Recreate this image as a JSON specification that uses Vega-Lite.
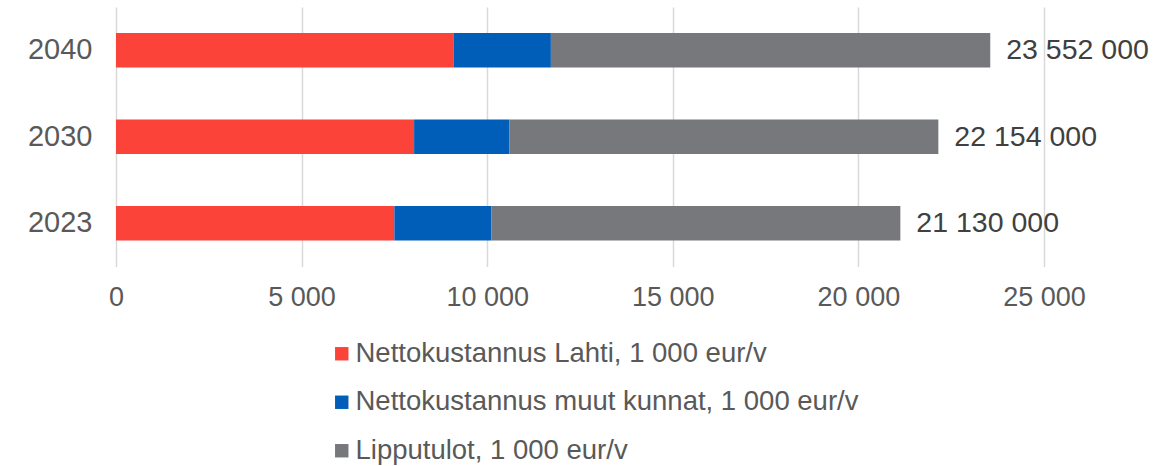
{
  "$schema": "https://vega.github.io/schema/vega-lite/v6.json",
  "autosize": {"type": "none"},
  "padding": {"left": 116, "top": 7, "right": 129, "bottom": 199.5},
  "width": 928,
  "height": 259.5,
  "config": {
    "locale": {"number": {"decimal": ",", "thousands": " ", "grouping": [3], "currency": ["", " €"]}},
    "view": {"stroke": null},
    "font": "Liberation Sans"
  },
  "data": {
    "values": [
      {"year": "2040", "series": "Nettokustannus Lahti, 1 000 eur/v", "value": 9091},
      {"year": "2040", "series": "Nettokustannus muut kunnat, 1 000 eur/v", "value": 2625},
      {"year": "2040", "series": "Lipputulot, 1 000 eur/v", "value": 11836},
      {"year": "2030", "series": "Nettokustannus Lahti, 1 000 eur/v", "value": 8031},
      {"year": "2030", "series": "Nettokustannus muut kunnat, 1 000 eur/v", "value": 2570},
      {"year": "2030", "series": "Lipputulot, 1 000 eur/v", "value": 11553},
      {"year": "2023", "series": "Nettokustannus Lahti, 1 000 eur/v", "value": 7499},
      {"year": "2023", "series": "Nettokustannus muut kunnat, 1 000 eur/v", "value": 2617},
      {"year": "2023", "series": "Lipputulot, 1 000 eur/v", "value": 11014}
    ]
  },
  "encoding": {
    "y": {
      "field": "year", "type": "nominal", "sort": ["2040", "2030", "2023"],
      "scale": {"paddingInner": 0.6, "paddingOuter": 0.3},
      "axis": {"title": null, "ticks": false, "domain": false, "labelFontSize": 29, "labelColor": "#595959", "labelPadding": 24}
    }
  },
  "layer": [
    {
      "transform": [
        {"calculate": "indexof(['Nettokustannus Lahti, 1 000 eur/v', 'Nettokustannus muut kunnat, 1 000 eur/v', 'Lipputulot, 1 000 eur/v'], datum.series)", "as": "k"}
      ],
      "mark": {"type": "bar"},
      "encoding": {
        "x": {
          "field": "value", "type": "quantitative", "stack": "zero",
          "scale": {"domain": [0, 25000], "nice": false},
          "axis": {"title": null, "values": [0, 5000, 10000, 15000, 20000, 25000], "format": ",d", "ticks": false, "domain": false, "grid": true, "gridColor": "#D9D9D9", "gridWidth": 1.5, "labelFontSize": 27, "labelColor": "#595959", "labelPadding": 18, "labelFlush": false}
        },
        "color": {
          "field": "series", "type": "nominal",
          "scale": {
            "domain": ["Nettokustannus Lahti, 1 000 eur/v", "Nettokustannus muut kunnat, 1 000 eur/v", "Lipputulot, 1 000 eur/v"],
            "range": ["#FC433A", "#005EB8", "#77787B"]
          },
          "legend": {
            "title": null, "orient": "none", "legendX": 212, "legendY": 333, "direction": "vertical",
            "symbolType": "square", "symbolSize": 180, "symbolStrokeWidth": 0,
            "labelFontSize": 27.5, "labelColor": "#595959", "labelOffset": 0, "rowPadding": 19.5, "labelLimit": 800
          }
        },
        "order": {"field": "k", "type": "quantitative"}
      }
    },
    {
      "transform": [
        {"aggregate": [{"op": "sum", "field": "value", "as": "total"}], "groupby": ["year"]},
        {"calculate": "datum.total * 1000", "as": "full"}
      ],
      "mark": {"type": "text", "align": "left", "baseline": "middle", "dx": 16, "fontSize": 28.5, "color": "#404040"},
      "encoding": {
        "x": {"field": "total", "type": "quantitative"},
        "text": {"field": "full", "type": "quantitative", "format": ",d"}
      }
    }
  ]
}
